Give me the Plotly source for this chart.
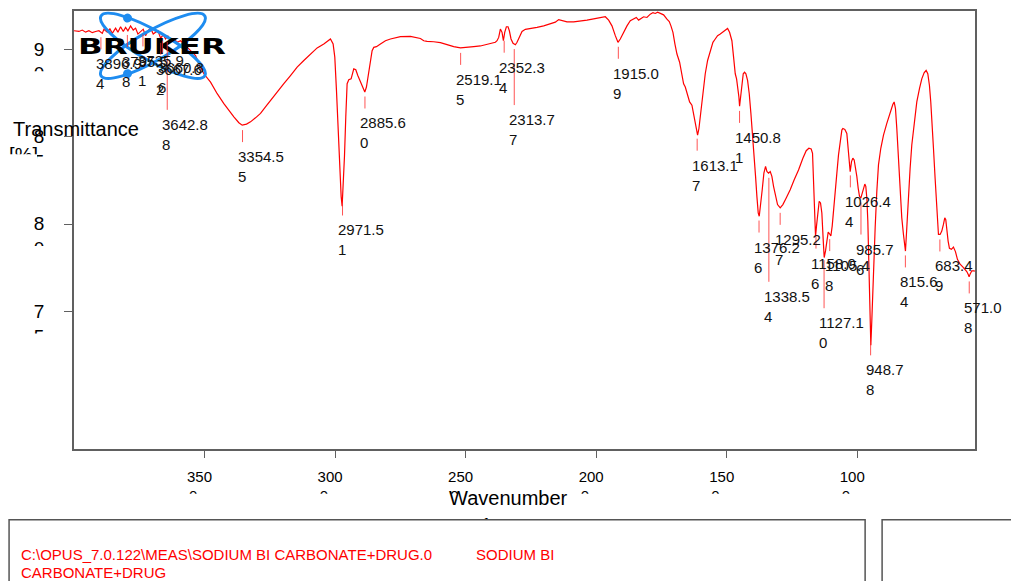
import base64
import numpy as np
import plotly.graph_objects as go

# FT-IR spectrum: sodium bicarbonate + drug
wavenumber = [
    4000.0, 3981.1, 3968.3, 3955.5, 3942.8, 3930.0, 3917.3, 3904.5, 3891.7, 3885.4,
    3872.6, 3862.4, 3853.5, 3840.7, 3831.8, 3821.6, 3811.3, 3802.4, 3793.5, 3783.3,
    3773.1, 3764.1, 3755.2, 3745.0, 3734.8, 3725.9, 3716.9, 3706.7, 3696.5, 3687.6,
    3678.6, 3668.4, 3658.2, 3649.3, 3640.4, 3630.2, 3617.4, 3604.6, 3591.9, 3572.7,
    3560.0, 3547.2, 3534.5, 3521.7, 3511.5, 3502.6, 3477.0, 3451.5, 3426.0, 3406.9,
    3387.7, 3368.6, 3355.8, 3339.2, 3323.9, 3304.8, 3285.6, 3266.5, 3247.4, 3221.8,
    3196.3, 3170.8, 3145.3, 3119.8, 3094.2, 3068.7, 3043.2, 3024.1, 3017.7, 3007.5,
    3001.1, 2994.7, 2988.3, 2981.9, 2976.8, 2973.0, 2969.2, 2964.1, 2959.0, 2953.9,
    2947.5, 2938.6, 2928.4, 2920.7, 2913.0, 2902.8, 2893.9, 2886.2, 2879.9, 2870.9,
    2864.6, 2858.2, 2851.8, 2841.6, 2826.3, 2807.1, 2788.0, 2749.7, 2711.4, 2685.9,
    2673.2, 2660.4, 2647.6, 2622.1, 2596.6, 2571.1, 2545.6, 2520.0, 2494.5, 2469.0,
    2443.5, 2418.0, 2398.8, 2386.1, 2379.7, 2373.3, 2366.9, 2360.5, 2355.4, 2350.3,
    2343.9, 2337.6, 2332.5, 2326.1, 2318.4, 2309.5, 2303.1, 2294.2, 2284.0, 2271.2,
    2252.1, 2226.6, 2201.0, 2175.5, 2156.4, 2143.6, 2130.9, 2111.7, 2086.2, 2060.7,
    2035.2, 2009.6, 1984.1, 1965.0, 1952.2, 1939.5, 1926.7, 1916.5, 1907.6, 1894.8,
    1882.0, 1869.3, 1856.5, 1846.3, 1837.4, 1828.4, 1818.2, 1805.5, 1792.7, 1782.5,
    1773.6, 1764.6, 1754.4, 1741.7, 1728.9, 1720.0, 1713.6, 1705.9, 1698.3, 1690.6,
    1680.4, 1671.5, 1665.1, 1658.7, 1649.8, 1642.1, 1633.2, 1626.8, 1620.4, 1615.3,
    1611.5, 1606.4, 1601.3, 1594.9, 1588.5, 1582.2, 1573.2, 1563.0, 1552.8, 1543.9,
    1535.0, 1524.7, 1514.5, 1505.6, 1496.7, 1489.0, 1480.1, 1473.7, 1467.3, 1462.2,
    1457.1, 1453.3, 1450.7, 1446.9, 1441.8, 1436.7, 1431.6, 1426.5, 1420.1, 1413.7,
    1407.3, 1401.0, 1394.6, 1389.5, 1384.4, 1379.3, 1375.4, 1370.3, 1364.0, 1357.6,
    1351.2, 1346.1, 1339.7, 1333.3, 1327.0, 1320.6, 1312.9, 1305.3, 1295.1, 1284.9,
    1272.1, 1256.8, 1241.5, 1224.9, 1208.3, 1195.5, 1185.3, 1176.4, 1171.3, 1167.5,
    1163.6, 1159.8, 1156.0, 1150.9, 1145.8, 1140.7, 1135.6, 1130.5, 1126.6, 1121.5,
    1116.4, 1111.3, 1106.2, 1101.1, 1096.0, 1090.9, 1084.5, 1078.1, 1071.8, 1065.4,
    1059.0, 1055.2, 1047.5, 1039.9, 1033.5, 1027.1, 1022.0, 1016.9, 1011.8, 1006.7,
    1001.6, 996.5, 991.4, 986.3, 981.2, 976.1, 971.0, 967.2, 963.3, 959.5,
    955.7, 951.9, 948.0, 944.2, 940.4, 936.5, 931.4, 925.1, 918.7, 909.8,
    899.5, 886.8, 874.0, 863.8, 858.7, 853.6, 848.5, 842.1, 835.7, 829.4,
    823.0, 817.9, 815.3, 810.2, 803.8, 797.5, 791.1, 782.2, 771.9, 761.7,
    752.8, 743.9, 736.2, 729.8, 723.5, 718.4, 713.2, 708.1, 701.8, 695.4,
    689.0, 682.6, 676.2, 669.9, 664.8, 660.9, 657.1, 652.0, 646.9, 639.2,
    631.6, 623.9, 616.3, 606.1, 595.9, 586.9, 580.5, 575.4, 571.6, 567.8,
    561.4, 552.5, 549.0,
]
transmittance = [
    91.06, 91.02, 91.10, 90.98, 91.06, 90.95, 91.02, 91.06, 90.91, 91.14,
    90.98, 91.17, 90.91, 91.21, 90.98, 91.29, 91.02, 91.25, 91.06, 91.34,
    91.10, 91.21, 90.87, 91.02, 91.15, 90.78, 91.06, 91.21, 90.87, 90.97,
    91.06, 90.64, 90.83, 90.59, 90.76, 90.49, 90.59, 90.40, 90.49, 90.21,
    90.02, 89.83, 89.64, 89.17, 88.88, 88.60, 88.12, 87.46, 86.89, 86.48,
    86.14, 85.80, 85.66, 85.72, 85.85, 86.08, 86.33, 86.70, 87.08, 87.56,
    88.03, 88.50, 88.98, 89.36, 89.73, 90.08, 90.30, 90.55, 90.59, 90.30,
    89.55, 87.65, 85.18, 82.92, 81.59, 81.02, 82.16, 83.86, 86.14, 88.03,
    88.26, 88.31, 88.88, 88.83, 88.50, 88.12, 87.80, 87.56, 87.84, 88.60,
    89.36, 89.92, 90.11, 90.15, 90.30, 90.49, 90.59, 90.72, 90.74, 90.68,
    90.62, 90.49, 90.45, 90.43, 90.38, 90.27, 90.15, 90.08, 90.10, 90.15,
    90.19, 90.27, 90.34, 90.40, 90.49, 90.68, 91.16, 90.97, 90.49, 90.97,
    91.29, 91.29, 91.06, 90.59, 90.34, 90.26, 90.40, 90.72, 91.02, 91.14,
    91.17, 91.25, 91.34, 91.44, 91.55, 91.70, 91.63, 91.57, 91.57, 91.61,
    91.67, 91.74, 91.82, 91.86, 91.67, 91.34, 90.78, 90.40, 90.59, 90.97,
    91.34, 91.63, 91.72, 91.82, 91.67, 91.78, 91.86, 91.82, 92.01, 92.10,
    92.05, 92.12, 92.05, 91.97, 91.72, 91.59, 91.34, 90.97, 90.30, 89.73,
    89.26, 88.60, 88.03, 87.84, 87.37, 86.99, 86.80, 86.33, 85.76, 85.28,
    85.09, 85.47, 86.14, 87.08, 87.84, 88.60, 89.36, 89.92, 90.40, 90.59,
    90.78, 90.87, 90.97, 91.06, 91.19, 90.97, 90.49, 89.55, 88.60, 88.31,
    87.84, 87.27, 86.74, 87.27, 88.22, 88.60, 88.69, 88.60, 88.22, 87.46,
    86.33, 85.19, 83.86, 82.73, 81.59, 80.64, 80.45, 81.02, 81.97, 82.92,
    83.30, 83.01, 82.92, 83.01, 82.73, 82.16, 81.59, 81.12, 80.93, 81.12,
    81.50, 81.97, 82.54, 83.10, 83.77, 84.20, 84.34, 84.30, 84.05, 82.54,
    80.83, 79.30, 79.90, 80.83, 81.31, 81.21, 80.64, 79.13, 78.09, 78.47,
    79.13, 79.54, 79.45, 79.32, 79.89, 80.64, 81.78, 82.92, 83.96, 84.81,
    85.38, 85.47, 85.42, 85.19, 84.24, 83.00, 83.58, 83.77, 83.67, 83.29,
    82.73, 82.06, 81.59, 81.49, 81.78, 82.06, 82.29, 82.16, 81.49, 80.17,
    77.90, 75.06, 73.07, 74.49, 76.19, 78.09, 79.79, 81.87, 83.39, 84.34,
    85.09, 85.76, 86.42, 86.84, 86.99, 86.61, 85.47, 83.58, 81.69, 80.36,
    79.41, 78.75, 78.46, 79.79, 81.69, 83.20, 84.53, 85.85, 86.99, 87.75,
    88.31, 88.65, 88.79, 88.60, 87.93, 86.99, 85.85, 84.34, 82.63, 80.74,
    79.41, 79.41, 79.60, 79.98, 80.36, 80.26, 79.60, 79.03, 78.62, 78.56,
    78.69, 78.43, 77.99, 77.71, 77.56, 77.42, 77.29, 77.14, 76.99, 77.14,
    77.33, 77.33, 77.30,
]

# picked peak positions (cm-1)
peak_wavenumbers = [
    3896.94, 3795.58, 3735.91, 3667.62, 3660.86, 3642.88, 3354.55, 2971.51,
    2885.60, 2519.15, 2352.34, 2313.77, 1915.09, 1613.17, 1450.81, 1376.26,
    1338.54, 1295.27, 1158.06, 1127.10, 1105.48, 1026.44, 985.76, 948.78,
    815.64, 683.49, 571.08,
]

x_ticks = [3500, 3000, 2500, 2000, 1500, 1000]
y_ticks = [75, 80, 85, 90]

x_title = ["Wavenumber", "cm-1"]
y_title = ["Transmittance", "[%]"]
file_path = r"C:\OPUS_7.0.122\MEAS\SODIUM BI CARBONATE+DRUG.0"
sample_name = "SODIUM BI CARBONATE+DRUG"

# ---------------------------------------------------------------- geometry
W, H = 1011, 581
M_L, M_R, M_T, M_B = 73, 36, 9, 132
PW = W - M_L - M_R
PH = H - M_T - M_B
X_RANGE = [4000, 549]
Y_RANGE = [67.14, 92.19]

SANS = "Liberation Sans, Arial, sans-serif"
RED = "#ff0000"
FRAME = "#606060"
LABEL_SIZE = 15


def xp(px):
    return (px - M_L) / PW


def yp(py):
    return (H - M_B - py) / PH


def px_of_x(v):
    return M_L + (X_RANGE[0] - v) / (X_RANGE[0] - X_RANGE[1]) * PW


def py_of_y(v):
    return M_T + (Y_RANGE[1] - v) / (Y_RANGE[1] - Y_RANGE[0]) * PH


def x_of_px(px):
    return X_RANGE[0] - (px - M_L) / PW * (X_RANGE[0] - X_RANGE[1])


def y_of_py(py):
    return Y_RANGE[1] - (py - M_T) / PH * (Y_RANGE[1] - Y_RANGE[0])


def wrap_last(s):
    # the label box is narrow: the final digit falls onto a second line
    return s[:-1] + "<br>" + s[-1]


fig = go.Figure()

fig.add_trace(go.Scatter(
    x=wavenumber, y=transmittance, mode="lines",
    line=dict(color=RED, width=1.2), hoverinfo="x+y", showlegend=False,
))
# empty trace so the helper axes carrying the title second lines are drawn
fig.add_trace(go.Scatter(x=[], y=[], xaxis="x2", yaxis="y2",
                         showlegend=False, hoverinfo="skip"))

shapes = []
annotations = []

# peak markers: short leader under the trace, value printed below
leader_len = {3642.88: 68, 2313.77: 56, 1338.54: 104, 1127.10: 48, 985.76: 32}
wn_asc = np.array(wavenumber[::-1])
tr_asc = np.array(transmittance[::-1])
for v in peak_wavenumbers:
    t = float(np.interp(v, wn_asc, tr_asc))
    L = leader_len.get(v, 12)
    shapes.append(dict(
        type="line", xref="x", yref="y", x0=v, x1=v,
        ysizemode="pixel", yanchor=t, y0=-5, y1=-(5 + L),
        line=dict(color="rgba(255,40,40,0.8)", width=1), layer="above",
    ))
    annotations.append(dict(
        x=v, y=t, xref="x", yref="y", showarrow=False,
        text=wrap_last(f"{v:.2f}"), align="left",
        xanchor="left", yanchor="top", xshift=-7, yshift=-(5 + L + 4),
        font=dict(family=SANS, size=LABEL_SIZE, color="#111111"),
    ))

# white masks that trim the wrapped tick labels
for t in x_ticks:
    cx = px_of_x(t)
    shapes.append(dict(type="rect", xref="paper", yref="paper",
                       x0=xp(cx - 22), x1=xp(cx + 12), y0=yp(494), y1=yp(512),
                       fillcolor="white", line=dict(width=0), layer="above"))
for t in y_ticks:
    cy = py_of_y(t)
    shapes.append(dict(type="rect", xref="paper", yref="paper",
                       x0=xp(18), x1=xp(62), y0=yp(cy + 22), y1=yp(cy + 42),
                       fillcolor="white", line=dict(width=0), layer="above"))
shapes.append(dict(type="rect", xref="paper", yref="paper",
                   x0=xp(0), x1=xp(36), y0=yp(153), y1=yp(172),
                   fillcolor="white", line=dict(width=0), layer="above"))

# info panels below the plot
shapes.append(dict(type="rect", xref="paper", yref="paper",
                   x0=xp(8), x1=xp(865), y0=yp(520), y1=yp(620),
                   fillcolor="white", line=dict(color="#555555", width=1.5),
                   layer="above"))
shapes.append(dict(type="rect", xref="paper", yref="paper",
                   x0=xp(882), x1=xp(1040), y0=yp(520), y1=yp(620),
                   fillcolor="white", line=dict(color="#555555", width=1.5),
                   layer="above"))

annotations += [
    dict(x=xp(10), y=yp(128), xref="paper", yref="paper", showarrow=False,
         text=y_title[0], xanchor="left", yanchor="middle",
         font=dict(family=SANS, size=20, color="black")),
    dict(x=xp(446), y=yp(498), xref="paper", yref="paper", showarrow=False,
         text=x_title[0], xanchor="left", yanchor="middle",
         font=dict(family=SANS, size=20, color="black")),
    dict(x=xp(18), y=yp(555), xref="paper", yref="paper", showarrow=False,
         text=file_path, xanchor="left", yanchor="middle",
         font=dict(family=SANS, size=15, color=RED)),
    dict(x=xp(473), y=yp(555), xref="paper", yref="paper", showarrow=False,
         text=sample_name[:9], xanchor="left", yanchor="middle",
         font=dict(family=SANS, size=15, color=RED)),
    dict(x=xp(18), y=yp(573), xref="paper", yref="paper", showarrow=False,
         text=sample_name[10:], xanchor="left", yanchor="middle",
         font=dict(family=SANS, size=15, color=RED)),
]

# vendor logo: two crossed orbits with the word mark
BLUE = "#1e8cf0"
logo_svg = f"""<svg xmlns="http://www.w3.org/2000/svg" width="170" height="76" viewBox="0 0 170 76" preserveAspectRatio="none">
<g transform="translate(84 37) rotate(30)">
<ellipse cx="0" cy="0" rx="60" ry="15" fill="none" stroke="{BLUE}" stroke-width="3"/>
<circle cx="-36" cy="-11.5" r="4.5" fill="{BLUE}"/>
</g>
<g transform="translate(84 37) rotate(-30)">
<ellipse cx="0" cy="0" rx="60" ry="15" fill="none" stroke="{BLUE}" stroke-width="3"/>
<circle cx="-36" cy="11.5" r="4.5" fill="{BLUE}"/>
</g>
<text x="9" y="45" font-family="DejaVu Sans" font-weight="bold" font-size="22" textLength="148" lengthAdjust="spacingAndGlyphs" fill="black">BRUKER</text>
</svg>"""
logo_src = "data:image/svg+xml;base64," + base64.b64encode(logo_svg.encode()).decode()

axis_common = dict(showgrid=False, zeroline=False)

fig.update_layout(
    width=W, height=H,
    margin=dict(l=M_L, r=M_R, t=M_T, b=M_B, pad=0),
    paper_bgcolor="white", plot_bgcolor="white",
    shapes=shapes, annotations=annotations,
    images=[dict(source=logo_src, xref="paper", yref="paper",
                 x=xp(68), y=yp(7), sizex=170 / PW, sizey=76 / PH,
                 xanchor="left", yanchor="top", sizing="stretch", layer="above")],
    xaxis=dict(
        range=X_RANGE, **axis_common,
        showline=True, mirror=True, linecolor=FRAME, linewidth=1.5,
        ticks="outside", ticklen=7, tickwidth=1, tickcolor=FRAME,
        tickvals=x_ticks,
        ticktext=[wrap_last(str(t)) + "\u00a0" * 3 for t in x_ticks],
        tickfont=dict(family=SANS, size=LABEL_SIZE, color="black"),
        ticklabelshift=5, ticklabelstandoff=6,
    ),
    yaxis=dict(
        range=Y_RANGE, **axis_common,
        showline=True, mirror=True, linecolor=FRAME, linewidth=1.5,
        ticks="outside", ticklen=8, tickwidth=1, tickcolor=FRAME,
        tickvals=y_ticks, ticktext=[wrap_last(str(t)) for t in y_ticks],
        tickfont=dict(family=SANS, size=19, color="black"),
        ticklabelshift=12, ticklabelstandoff=16,
    ),
    # helper axes: only a single tick label each (title second lines)
    xaxis2=dict(
        range=X_RANGE, overlaying="x", anchor="y", side="bottom", **axis_common,
        showline=False, ticks="", tickvals=[x_of_px(469)], ticktext=[x_title[1]],
        tickfont=dict(family=SANS, size=20, color="black"),
        ticklabelstandoff=62,
    ),
    yaxis2=dict(
        range=Y_RANGE, overlaying="y", anchor="x", side="left", **axis_common,
        showline=False, ticks="", tickvals=[y_of_py(154)], ticktext=[y_title[1]],
        tickfont=dict(family=SANS, size=20, color="black"),
        ticklabelstandoff=35,
    ),
)

fig.write_html("out.html")
